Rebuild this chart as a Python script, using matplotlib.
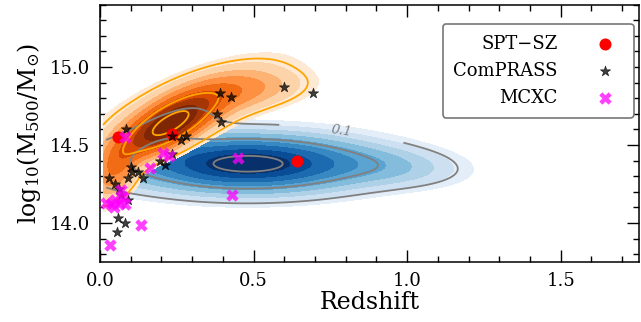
import numpy as np
import matplotlib
matplotlib.use("Agg")
import matplotlib.pyplot as plt

plt.rcParams['font.family'] = ['DejaVu Serif']
plt.rcParams['mathtext.fontset'] = 'dejavuserif'

# ---------------- data ----------------
spt_z = [0.06, 0.235, 0.64]
spt_m = [14.55, 14.57, 14.40]

comprass_z = [0.60, 0.695, 0.39, 0.425, 0.38, 0.395, 0.085, 0.235, 0.265, 0.28,
              0.235, 0.195, 0.21, 0.10, 0.105, 0.09, 0.125, 0.14, 0.03, 0.05,
              0.062, 0.09, 0.057, 0.08, 0.055, 0.07]
comprass_m = [14.87, 14.83, 14.83, 14.81, 14.70, 14.65, 14.60, 14.56, 14.53, 14.56,
              14.44, 14.40, 14.37, 14.36, 14.33, 14.29, 14.33, 14.29, 14.29, 14.25,
              14.22, 14.15, 14.03, 14.00, 13.94, 14.18]

mcxc_z = [0.08, 0.205, 0.225, 0.163, 0.45, 0.43, 0.135, 0.033, 0.07,
          0.02, 0.035, 0.05, 0.065, 0.075, 0.045, 0.08]
mcxc_m = [14.55, 14.45, 14.43, 14.35, 14.42, 14.18, 13.99, 13.86, 14.21,
          14.13, 14.12, 14.15, 14.13, 14.17, 14.10, 14.12]

# density model components (z0, m0, sigma_z, sigma_m, rho, weight)
blue_comp = [
    (0.48, 14.38, 0.24, 0.11, 0.0, 1.0),
    (0.95, 14.36, 0.15, 0.08, -0.15, 0.15),
    (0.22, 14.55, 0.10, 0.14, 0.6, 0.16),
]
orange_comp = [
    (0.22, 14.62, 0.09, 0.12, 0.7, 1.0),
    (0.30, 14.75, 0.16, 0.16, 0.7, 0.35),
    (0.05, 14.35, 0.05, 0.13, 0.4, 0.35),
    (0.50, 14.85, 0.12, 0.08, 0.3, 0.15),
]
blue_fill_levels = [0.04, 0.08, 0.14, 0.22, 0.32, 0.44, 0.57, 0.72, 0.86, 1.01]
blue_line_levels = [0.07, 0.35, 0.9]
orange_fill_levels = [0.03, 0.07, 0.13, 0.2, 0.3, 0.42, 0.56, 0.72, 1.01]
orange_line_levels = [0.05, 0.45, 0.85]

xticks = [0.0, 0.5, 1.0, 1.5]
yticks = [14.0, 14.5, 15.0]


def density(Z, M, comps):
    d = np.zeros_like(Z)
    for z0, m0, sz, sm, rho, w in comps:
        dz = (Z - z0) / sz
        dm = (M - m0) / sm
        q = (dz**2 - 2 * rho * dz * dm + dm**2) / (1 - rho**2)
        d += w * np.exp(-0.5 * q)
    return d / d.max()


fig = plt.figure(figsize=(6.41, 3.22), dpi=100)
ax = fig.add_axes([0.156, 0.186, 0.841, 0.800])

zb, mb = np.meshgrid(np.linspace(0.02, 1.3, 200), np.linspace(13.9, 14.9, 200))
db = density(zb, mb, blue_comp)
zo, mo = np.meshgrid(np.linspace(0.01, 0.75, 200), np.linspace(14.0, 15.1, 200))
do = density(zo, mo, orange_comp)

bcols = plt.cm.Blues(np.linspace(0.1, 1.0, len(blue_fill_levels) - 1))
ocols = plt.cm.Oranges(np.linspace(0.1, 1.0, len(orange_fill_levels) - 1))

ax.contourf(zb, mb, db, levels=blue_fill_levels, colors=bcols, zorder=1)
ax.contourf(zo, mo, do, levels=orange_fill_levels, colors=ocols, zorder=2)
cs = ax.contour(zb, mb, db, levels=blue_line_levels, colors='gray',
                linewidths=1.3, zorder=3)
ax.contour(zo, mo, do, levels=orange_line_levels, colors='orange',
           linewidths=1.3, zorder=3)
labs = ax.clabel(cs, levels=[blue_line_levels[0]], fmt={blue_line_levels[0]: '0.1'},
                 manual=[(0.79, 14.63)], inline=True, inline_spacing=75,
                 fontsize=9.5)
for t in labs:
    t.set_fontstyle('italic')

ax.scatter(spt_z, spt_m, s=75, marker='o', color='red', zorder=5, label='SPT\u2212SZ',
           linewidths=0)
ax.scatter(comprass_z, comprass_m, s=60, marker='*', color='black', alpha=0.75,
           zorder=6, label='ComPRASS', linewidths=0.5)
ax.scatter(mcxc_z, mcxc_m, s=80, marker='X', color='magenta', alpha=0.75,
           zorder=7, label='MCXC', linewidths=0)

ax.set_xlim(0.0, 1.755)
ax.set_ylim(13.75, 15.4)
ax.set_xticks(xticks)
ax.set_yticks(yticks)
ax.set_xticklabels([f'{v:.1f}' for v in xticks])
ax.set_yticklabels([f'{v:.1f}' for v in yticks])
ax.xaxis.set_minor_locator(matplotlib.ticker.MultipleLocator(0.1))
ax.yaxis.set_minor_locator(matplotlib.ticker.MultipleLocator(0.1))
ax.tick_params(which='both', direction='in', top=True, right=True, labelsize=13,
               width=1.0)
ax.tick_params(which='major', length=8.5, pad=7)
ax.tick_params(which='minor', length=4.5)
for sp in ax.spines.values():
    sp.set_linewidth(1.1)

ax.set_xlabel('Redshift', fontsize=17, labelpad=1)
ax.set_ylabel(r'$\mathrm{log_{10}(M_{500}/M_{\odot})}$', fontsize=17, labelpad=5)

leg = ax.legend(loc='upper right', bbox_to_anchor=(0.99, 0.925), borderaxespad=0,
                markerfirst=False, fontsize=13, handletextpad=1.6,
                labelspacing=0.5, borderpad=0.6, fancybox=True, framealpha=1,
                edgecolor='#777777')
leg.get_frame().set_linewidth(1.2)

fig.savefig('out.png', dpi=100)
